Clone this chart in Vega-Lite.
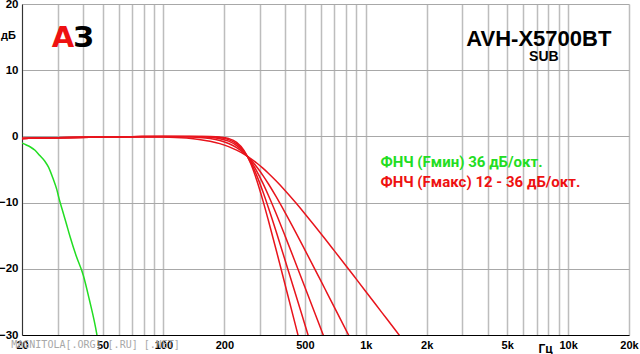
{
  "$schema": "https://vega.github.io/schema/vega-lite/v6.json",
  "width": 607,
  "height": 331,
  "autosize": {"type": "none"},
  "padding": {"left": 22, "top": 4, "right": 11, "bottom": 19},
  "background": "white",
  "config": {"view": {"stroke": null}},
  "datasets": {
    "curves": [
      {"f": 20, "db": -0.3, "s": "n2"}, {"f": 30, "db": -0.2, "s": "n2"}, {"f": 50, "db": -0.1, "s": "n2"}, {"f": 70, "db": -0.06, "s": "n2"}, {"f": 100, "db": -0.1, "s": "n2"}, {"f": 130, "db": -0.26, "s": "n2"}, {"f": 150, "db": -0.46, "s": "n2"}, {"f": 170, "db": -0.73, "s": "n2"}, {"f": 190, "db": -1.09, "s": "n2"}, {"f": 210, "db": -1.54, "s": "n2"}, {"f": 230, "db": -2.08, "s": "n2"}, {"f": 250, "db": -2.68, "s": "n2"}, {"f": 270, "db": -3.35, "s": "n2"}, {"f": 290, "db": -4.06, "s": "n2"}, {"f": 310, "db": -4.8, "s": "n2"}, {"f": 330, "db": -5.56, "s": "n2"}, {"f": 360, "db": -6.7, "s": "n2"}, {"f": 400, "db": -8.2, "s": "n2"}, {"f": 450, "db": -9.99, "s": "n2"}, {"f": 500, "db": -11.67, "s": "n2"}, {"f": 560, "db": -13.53, "s": "n2"}, {"f": 630, "db": -15.5, "s": "n2"}, {"f": 700, "db": -17.29, "s": "n2"}, {"f": 800, "db": -19.57, "s": "n2"}, {"f": 900, "db": -21.6, "s": "n2"}, {"f": 1000, "db": -23.42, "s": "n2"}, {"f": 1200, "db": -26.58, "s": "n2"}, {"f": 1400, "db": -29.25, "s": "n2"}, {"f": 1600, "db": -31.57, "s": "n2"},
      {"f": 20, "db": -0.3, "s": "n3"}, {"f": 30, "db": -0.2, "s": "n3"}, {"f": 50, "db": -0.1, "s": "n3"}, {"f": 70, "db": -0.05, "s": "n3"}, {"f": 100, "db": -0.02, "s": "n3"}, {"f": 130, "db": -0.07, "s": "n3"}, {"f": 150, "db": -0.16, "s": "n3"}, {"f": 170, "db": -0.33, "s": "n3"}, {"f": 190, "db": -0.62, "s": "n3"}, {"f": 210, "db": -1.07, "s": "n3"}, {"f": 230, "db": -1.7, "s": "n3"}, {"f": 250, "db": -2.53, "s": "n3"}, {"f": 270, "db": -3.53, "s": "n3"}, {"f": 290, "db": -4.66, "s": "n3"}, {"f": 310, "db": -5.88, "s": "n3"}, {"f": 330, "db": -7.15, "s": "n3"}, {"f": 360, "db": -9.06, "s": "n3"}, {"f": 400, "db": -11.54, "s": "n3"}, {"f": 450, "db": -14.45, "s": "n3"}, {"f": 500, "db": -17.13, "s": "n3"}, {"f": 560, "db": -20.04, "s": "n3"}, {"f": 630, "db": -23.09, "s": "n3"}, {"f": 700, "db": -25.82, "s": "n3"}, {"f": 800, "db": -29.29, "s": "n3"}, {"f": 900, "db": -32.36, "s": "n3"},
      {"f": 20, "db": -0.3, "s": "n4"}, {"f": 30, "db": -0.2, "s": "n4"}, {"f": 50, "db": -0.1, "s": "n4"}, {"f": 70, "db": -0.05, "s": "n4"}, {"f": 100, "db": 0, "s": "n4"}, {"f": 130, "db": -0.02, "s": "n4"}, {"f": 150, "db": -0.05, "s": "n4"}, {"f": 170, "db": -0.14, "s": "n4"}, {"f": 190, "db": -0.34, "s": "n4"}, {"f": 210, "db": -0.72, "s": "n4"}, {"f": 230, "db": -1.38, "s": "n4"}, {"f": 250, "db": -2.38, "s": "n4"}, {"f": 270, "db": -3.72, "s": "n4"}, {"f": 290, "db": -5.31, "s": "n4"}, {"f": 310, "db": -7.06, "s": "n4"}, {"f": 330, "db": -8.89, "s": "n4"}, {"f": 360, "db": -11.61, "s": "n4"}, {"f": 400, "db": -15.1, "s": "n4"}, {"f": 450, "db": -19.11, "s": "n4"}, {"f": 500, "db": -22.75, "s": "n4"}, {"f": 560, "db": -26.67, "s": "n4"}, {"f": 630, "db": -30.76, "s": "n4"},
      {"f": 20, "db": -0.3, "s": "n5"}, {"f": 30, "db": -0.2, "s": "n5"}, {"f": 50, "db": -0.1, "s": "n5"}, {"f": 70, "db": -0.05, "s": "n5"}, {"f": 100, "db": 0, "s": "n5"}, {"f": 130, "db": 0, "s": "n5"}, {"f": 150, "db": -0.02, "s": "n5"}, {"f": 170, "db": -0.06, "s": "n5"}, {"f": 190, "db": -0.19, "s": "n5"}, {"f": 210, "db": -0.49, "s": "n5"}, {"f": 230, "db": -1.12, "s": "n5"}, {"f": 250, "db": -2.24, "s": "n5"}, {"f": 270, "db": -3.91, "s": "n5"}, {"f": 290, "db": -6.0, "s": "n5"}, {"f": 310, "db": -8.33, "s": "n5"}, {"f": 330, "db": -10.74, "s": "n5"}, {"f": 360, "db": -14.29, "s": "n5"}, {"f": 400, "db": -18.77, "s": "n5"}, {"f": 450, "db": -23.84, "s": "n5"}, {"f": 500, "db": -28.41, "s": "n5"}, {"f": 560, "db": -33.32, "s": "n5"},
      {"f": 20, "db": -0.3, "s": "n6"}, {"f": 30, "db": -0.2, "s": "n6"}, {"f": 50, "db": -0.1, "s": "n6"}, {"f": 70, "db": -0.05, "s": "n6"}, {"f": 100, "db": 0, "s": "n6"}, {"f": 130, "db": 0, "s": "n6"}, {"f": 150, "db": -0.01, "s": "n6"}, {"f": 170, "db": -0.03, "s": "n6"}, {"f": 190, "db": -0.1, "s": "n6"}, {"f": 210, "db": -0.32, "s": "n6"}, {"f": 230, "db": -0.9, "s": "n6"}, {"f": 250, "db": -2.11, "s": "n6"}, {"f": 270, "db": -4.1, "s": "n6"}, {"f": 290, "db": -6.73, "s": "n6"}, {"f": 310, "db": -9.66, "s": "n6"}, {"f": 330, "db": -12.67, "s": "n6"}, {"f": 360, "db": -17.04, "s": "n6"}, {"f": 400, "db": -22.48, "s": "n6"}, {"f": 450, "db": -28.59, "s": "n6"}, {"f": 500, "db": -34.08, "s": "n6"},
      {"f": 20, "db": -1.0, "s": "g"}, {"f": 21, "db": -1.3, "s": "g"}, {"f": 22, "db": -1.6, "s": "g"}, {"f": 23.2, "db": -2.1, "s": "g"}, {"f": 24.5, "db": -2.9, "s": "g"}, {"f": 26, "db": -3.8, "s": "g"}, {"f": 27, "db": -4.6, "s": "g"}, {"f": 28.5, "db": -6.4, "s": "g"}, {"f": 29.7, "db": -8.0, "s": "g"}, {"f": 30.5, "db": -9.4, "s": "g"}, {"f": 31.5, "db": -10.9, "s": "g"}, {"f": 33, "db": -13.0, "s": "g"}, {"f": 34.6, "db": -15.2, "s": "g"}, {"f": 37, "db": -18.0, "s": "g"}, {"f": 40.2, "db": -21.0, "s": "g"}, {"f": 43, "db": -24.6, "s": "g"}, {"f": 46.8, "db": -29.8, "s": "g"}, {"f": 47.5, "db": -31.0, "s": "g"}
    ],
    "notes": [
      {"f": 31.9, "db": 14.9, "t": "А", "k": "logoA"},
      {"f": 40.3, "db": 14.9, "t": "З", "k": "logoZ"},
      {"f": 7164, "db": 14.7, "t": "AVH-X5700BT", "k": "title"},
      {"f": 7592, "db": 12.0, "t": "SUB", "k": "sub"},
      {"f": 1184, "db": -3.85, "t": "ФНЧ (Fмин) 36 дБ/окт.", "k": "legG"},
      {"f": 1184, "db": -6.87, "t": "ФНЧ (Fмакс) 12 - 36 дБ/окт.", "k": "legR"},
      {"f": 17.7, "db": -31.5, "t": "MAGNITOLA[.ORG] [.RU] [.NET]", "k": "wm"}
    ]
  },
  "encoding": {
    "x": {
      "field": "f", "type": "quantitative",
      "scale": {"type": "log", "domain": [20, 20000]},
      "axis": {
        "values": [20, 30, 40, 50, 60, 70, 80, 90, 100, 200, 300, 400, 500, 600, 700, 800, 900, 1000, 2000, 3000, 4000, 5000, 6000, 7000, 8000, 9000, 10000, 20000],
        "labelExpr": "indexof([20,50,100,200,500,1000,2000,5000,10000,20000], datum.value) >= 0 ? (datum.value >= 1000 ? (datum.value/1000) + 'k' : datum.value + '') : ''",
        "grid": true, "gridColor": "#bdbdbd", "gridWidth": 1.5,
        "ticks": false, "domainColor": "#000000", "domainWidth": 1,
        "labelFont": "Liberation Sans", "labelFontWeight": "bold", "labelFontSize": 11, "labelColor": "#000000",
        "labelPadding": 4, "labelOverlap": false, "labelFlush": false,
        "title": "Гц", "titleX": 523, "titleY": 13, "titleAngle": 0, "titleAlign": "center", "titleBaseline": "middle",
        "titleFont": "Liberation Sans", "titleFontSize": 12, "titleFontWeight": "bold", "titleColor": "#000000"
      }
    },
    "y": {
      "field": "db", "type": "quantitative",
      "scale": {"domain": [-30, 20], "nice": false},
      "axis": {
        "values": [-30, -20, -10, 0, 10, 20],
        "grid": true, "gridColor": "#a8a8a8", "gridWidth": 1,
        "ticks": false, "domainColor": "#333333", "domainWidth": 1,
        "labelFont": "Liberation Sans", "labelFontWeight": "bold", "labelFontSize": 11.5, "labelColor": "#000000",
        "labelPadding": 4, "labelFlush": false, "labelBaseline": "middle",
        "title": "дБ", "titleX": -14, "titleY": 31, "titleAngle": 0, "titleAlign": "center", "titleBaseline": "middle",
        "titleFont": "Liberation Sans", "titleFontSize": 11, "titleFontWeight": "bold", "titleColor": "#000000"
      }
    }
  },
  "layer": [
    {
      "data": {"name": "curves"},
      "mark": {"type": "line", "clip": true, "strokeWidth": 1.5, "interpolate": "monotone"},
      "encoding": {
        "color": {"field": "s", "type": "nominal", "legend": null,
          "scale": {"domain": ["n2", "n3", "n4", "n5", "n6", "g"], "range": ["#e8141c", "#e8141c", "#e8141c", "#e8141c", "#e8141c", "#22dd22"]}},
        "detail": {"field": "s"}
      }
    },
    {
      "data": {"name": "notes"},
      "transform": [{"filter": "datum.k == 'logoA'"}],
      "mark": {"type": "text", "clip": false, "font": "DejaVu Sans", "fontSize": 29, "fontWeight": "bold", "color": "#ee1111", "align": "center", "baseline": "middle"},
      "encoding": {"text": {"field": "t"}}
    },
    {
      "data": {"name": "notes"},
      "transform": [{"filter": "datum.k == 'logoZ'"}],
      "mark": {"type": "text", "clip": false, "font": "DejaVu Sans", "fontSize": 29, "fontWeight": "bold", "color": "#000000", "align": "center", "baseline": "middle"},
      "encoding": {"text": {"field": "t"}}
    },
    {
      "data": {"name": "notes"},
      "transform": [{"filter": "datum.k == 'title'"}],
      "mark": {"type": "text", "clip": false, "font": "Liberation Sans", "fontSize": 22, "fontWeight": "bold", "color": "#000000", "align": "center", "baseline": "middle"},
      "encoding": {"text": {"field": "t"}}
    },
    {
      "data": {"name": "notes"},
      "transform": [{"filter": "datum.k == 'sub'"}],
      "mark": {"type": "text", "clip": false, "font": "Liberation Sans", "fontSize": 14, "fontWeight": "bold", "color": "#000000", "align": "center", "baseline": "middle"},
      "encoding": {"text": {"field": "t"}}
    },
    {
      "data": {"name": "notes"},
      "transform": [{"filter": "datum.k == 'legG'"}],
      "mark": {"type": "text", "clip": false, "font": "Roboto", "fontSize": 15, "fontWeight": "bold", "color": "#22dd22", "align": "left", "baseline": "middle"},
      "encoding": {"text": {"field": "t"}}
    },
    {
      "data": {"name": "notes"},
      "transform": [{"filter": "datum.k == 'legR'"}],
      "mark": {"type": "text", "clip": false, "font": "Roboto", "fontSize": 15, "fontWeight": "bold", "color": "#ee1111", "align": "left", "baseline": "middle"},
      "encoding": {"text": {"field": "t"}}
    },
    {
      "data": {"name": "notes"},
      "transform": [{"filter": "datum.k == 'wm'"}],
      "mark": {"type": "text", "clip": false, "font": "DejaVu Sans Mono", "fontSize": 10, "color": "#a8a8a8", "align": "left", "baseline": "middle"},
      "encoding": {"text": {"field": "t"}}
    }
  ]
}
